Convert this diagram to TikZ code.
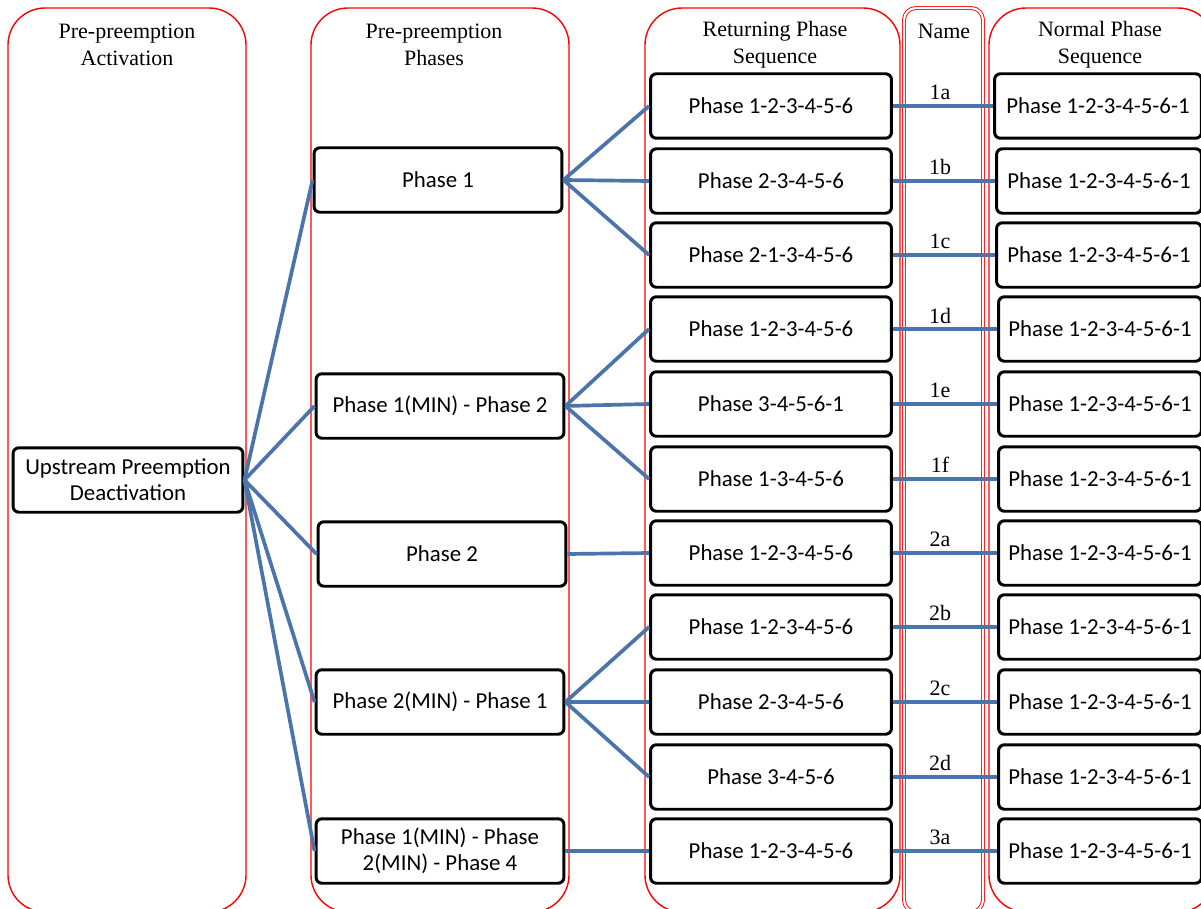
\documentclass[tikz,border=0pt]{standalone}
\usepackage{fontspec}
\setmainfont{Liberation Serif}
\newfontfamily\boxfont{Carlito}
\usetikzlibrary{positioning}
\definecolor{linkblue}{RGB}{74,116,170}

\begin{document}
\begin{tikzpicture}[x=0.02cm,y=-0.02cm,
  colframe/.style={draw=red,line width=0.8pt,rounded corners=0.74cm},
  colhead/.style={font=\fontsize{12.5}{15.2}\selectfont,align=center},
  namelbl/.style={font=\fontsize{12.5}{15}\selectfont},
  phasebox/.style={draw,line width=1.7pt,rounded corners=0.12cm,fill=white,minimum height=1.29cm,align=center,font=\boxfont\fontsize{13}{14.7}\selectfont,inner sep=2pt},
  link/.style={draw=linkblue,line width=2.1pt}]
\useasboundingbox (0,0) rectangle (1201,909);
\clip (0,0) rectangle (1201,909);
% column frames
\draw[colframe] (8,8) rectangle (246,912);
\draw[colframe] (311,8) rectangle (569,912);
\draw[colframe] (645,8) rectangle (900,912);
\draw[draw=red,line width=0.5pt,double=white,double distance=1.2pt,rounded corners=0.24cm] (904,8) rectangle (983,912);
\draw[colframe] (989,8) rectangle (1215,912);
% headers
\node[colhead] (hact) at (127,45) {Pre-preemption\\Activation};
\node[colhead] (hpha) at (434,45) {Pre-preemption\\Phases};
\node[colhead] (hret) at (775,45) {Returning Phase\\Sequence};
\node[colhead] (hnam) at (944,31) {Name};
\node[colhead] (hnor) at (1100,45) {Normal Phase\\Sequence};
% activation
\node[phasebox,minimum width=4.6cm] (up) at (128,480) {Upstream Preemption\\Deactivation};
% pre-preemption phases
\node[phasebox,minimum width=4.96cm] (pa) at (438,180) {Phase 1};
\node[phasebox,minimum width=4.96cm] (pb) at (440,406) {Phase 1(MIN) - Phase 2};
\node[phasebox,minimum width=4.96cm] (pc) at (442,554) {Phase 2};
\node[phasebox,minimum width=4.96cm] (pd) at (440,702) {Phase 2(MIN) - Phase 1};
\node[phasebox,minimum width=4.96cm] (pe) at (440,851) {Phase 1(MIN) - Phase\\2(MIN) - Phase 4};
% returning phase sequence
\node[phasebox,minimum width=4.82cm] (r1a) at (771,106) {Phase 1-2-3-4-5-6};
\node[phasebox,minimum width=4.82cm] (r1b) at (771,181) {Phase 2-3-4-5-6};
\node[phasebox,minimum width=4.82cm] (r1c) at (771,255) {Phase 2-1-3-4-5-6};
\node[phasebox,minimum width=4.82cm] (r1d) at (771,329) {Phase 1-2-3-4-5-6};
\node[phasebox,minimum width=4.82cm] (r1e) at (771,404) {Phase 3-4-5-6-1};
\node[phasebox,minimum width=4.82cm] (r1f) at (771,479) {Phase 1-3-4-5-6};
\node[phasebox,minimum width=4.82cm] (r2a) at (771,553) {Phase 1-2-3-4-5-6};
\node[phasebox,minimum width=4.82cm] (r2b) at (771,627) {Phase 1-2-3-4-5-6};
\node[phasebox,minimum width=4.82cm] (r2c) at (771,702) {Phase 2-3-4-5-6};
\node[phasebox,minimum width=4.82cm] (r2d) at (771,777) {Phase 3-4-5-6};
\node[phasebox,minimum width=4.82cm] (r3a) at (771,851) {Phase 1-2-3-4-5-6};
% normal phase sequence
\node[phasebox,minimum width=4.14cm] (n1a) at (1098,106) {Phase 1-2-3-4-5-6-1};
\node[phasebox,minimum width=4.10cm] (n1b) at (1099,181) {Phase 1-2-3-4-5-6-1};
\node[phasebox,minimum width=4.10cm] (n1c) at (1099,255) {Phase 1-2-3-4-5-6-1};
\node[phasebox,minimum width=4.06cm] (n1d) at (1100,329) {Phase 1-2-3-4-5-6-1};
\node[phasebox,minimum width=4.06cm] (n1e) at (1100,404) {Phase 1-2-3-4-5-6-1};
\node[phasebox,minimum width=4.06cm] (n1f) at (1100,479) {Phase 1-2-3-4-5-6-1};
\node[phasebox,minimum width=4.06cm] (n2a) at (1100,553) {Phase 1-2-3-4-5-6-1};
\node[phasebox,minimum width=4.06cm] (n2b) at (1100,627) {Phase 1-2-3-4-5-6-1};
\node[phasebox,minimum width=4.06cm] (n2c) at (1100,702) {Phase 1-2-3-4-5-6-1};
\node[phasebox,minimum width=4.06cm] (n2d) at (1100,777) {Phase 1-2-3-4-5-6-1};
\node[phasebox,minimum width=4.06cm] (n3a) at (1100,851) {Phase 1-2-3-4-5-6-1};
% names
\node[namelbl] (l1a) at (940,92) {1a};
\node[namelbl] (l1b) at (940,167) {1b};
\node[namelbl] (l1c) at (940,241) {1c};
\node[namelbl] (l1d) at (940,316) {1d};
\node[namelbl] (l1e) at (940,390) {1e};
\node[namelbl] (l1f) at (940,465) {1f};
\node[namelbl] (l2a) at (940,539) {2a};
\node[namelbl] (l2b) at (940,613) {2b};
\node[namelbl] (l2c) at (940,688) {2c};
\node[namelbl] (l2d) at (940,763) {2d};
\node[namelbl] (l3a) at (940,837) {3a};
% links
\draw[link] (up.east) -- (pa.west); \draw[link] (up.east) -- (pb.west); \draw[link] (up.east) -- (pc.west);
\draw[link] (up.east) -- (pd.west); \draw[link] (up.east) -- (pe.west);
\draw[link] (pa.east) -- (r1a.west); \draw[link] (pa.east) -- (r1b.west); \draw[link] (pa.east) -- (r1c.west);
\draw[link] (pb.east) -- (r1d.west); \draw[link] (pb.east) -- (r1e.west); \draw[link] (pb.east) -- (r1f.west);
\draw[link] (pc.east) -- (r2a.west);
\draw[link] (pd.east) -- (r2b.west); \draw[link] (pd.east) -- (r2c.west); \draw[link] (pd.east) -- (r2d.west);
\draw[link] (pe.east) -- (r3a.west);
\draw[link] (r1a.east) -- (n1a.west); \draw[link] (r1b.east) -- (n1b.west); \draw[link] (r1c.east) -- (n1c.west);
\draw[link] (r1d.east) -- (n1d.west); \draw[link] (r1e.east) -- (n1e.west); \draw[link] (r1f.east) -- (n1f.west);
\draw[link] (r2a.east) -- (n2a.west); \draw[link] (r2b.east) -- (n2b.west); \draw[link] (r2c.east) -- (n2c.west);
\draw[link] (r2d.east) -- (n2d.west); \draw[link] (r3a.east) -- (n3a.west);
\end{tikzpicture}
\end{document}
